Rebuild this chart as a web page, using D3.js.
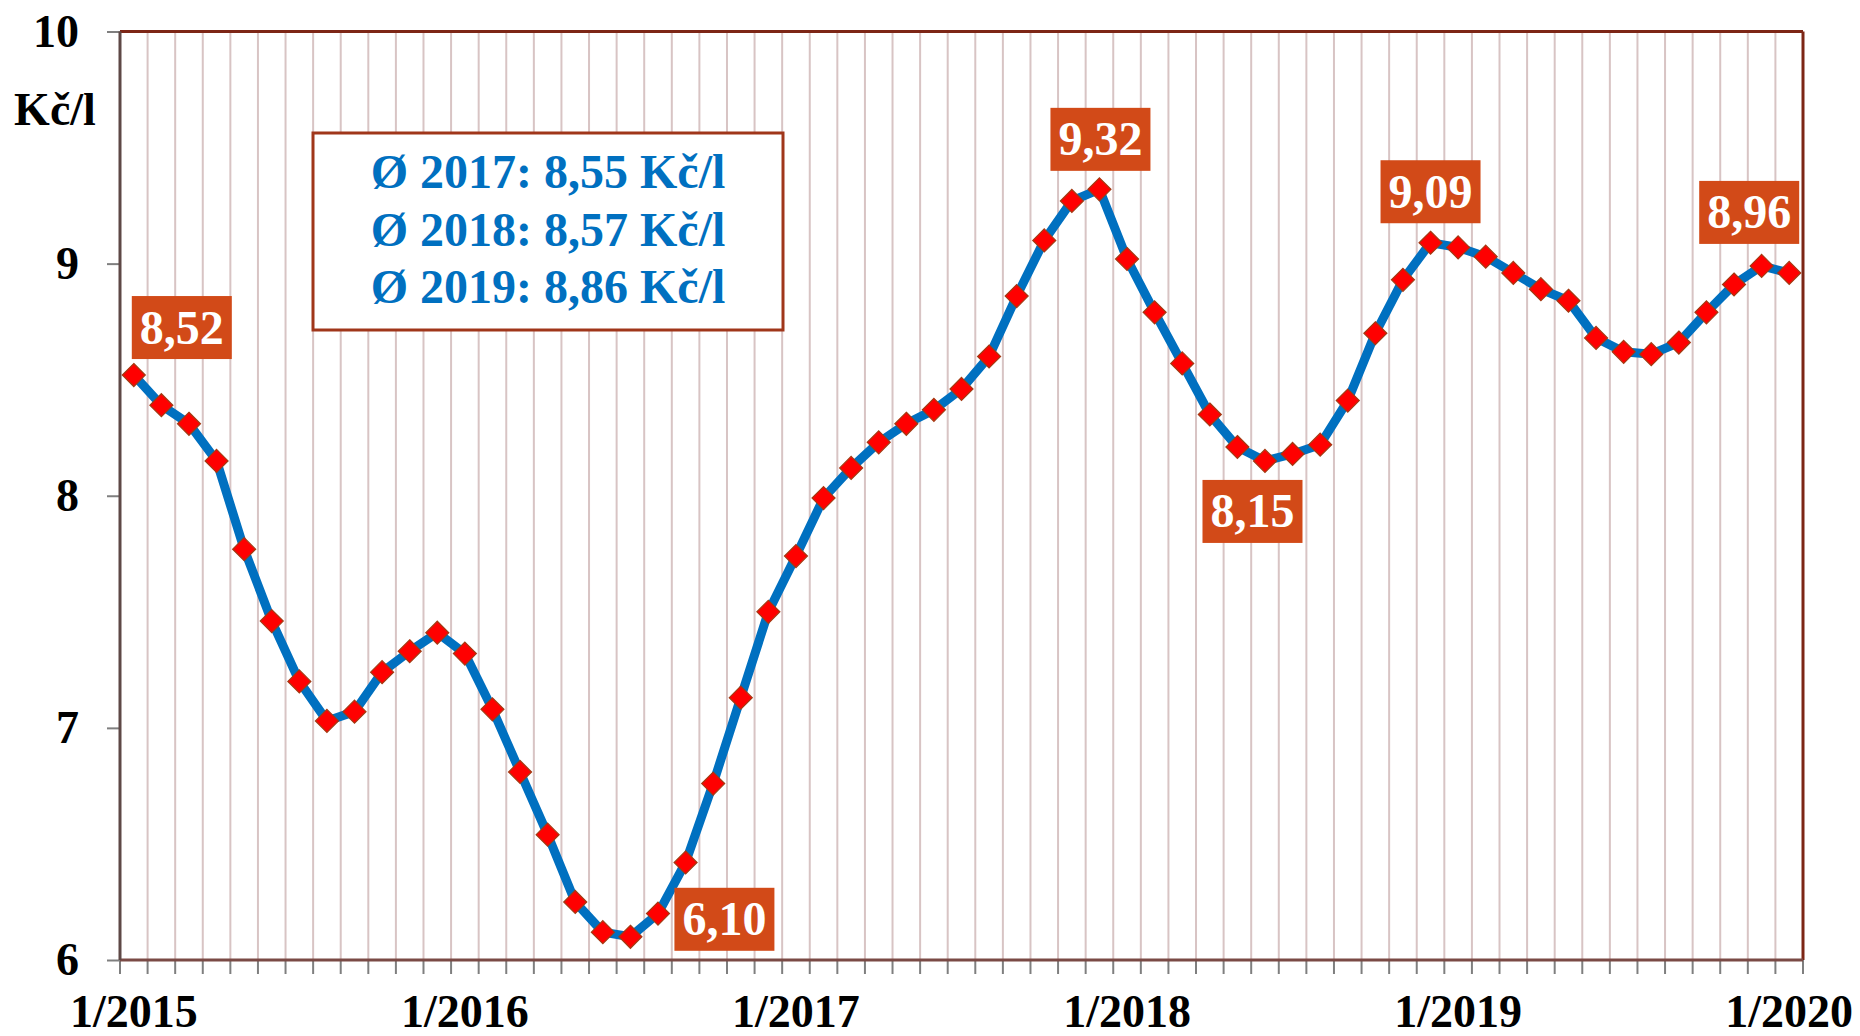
<!DOCTYPE html>
<html>
<head>
<meta charset="utf-8">
<script src="https://cdn.jsdelivr.net/npm/d3@7"></script>
<style>
  html, body { margin: 0; padding: 0; background: #ffffff; }
  svg { display: block; }
  text { font-family: "Liberation Serif", "Times New Roman", serif; font-weight: bold; }
</style>
</head>
<body>
<svg id="chart" width="1860" height="1036"></svg>
<script>
// ---------- DATA ----------
const categories = [
  "1/2015","2/2015","3/2015","4/2015","5/2015","6/2015","7/2015","8/2015","9/2015","10/2015","11/2015","12/2015",
  "1/2016","2/2016","3/2016","4/2016","5/2016","6/2016","7/2016","8/2016","9/2016","10/2016","11/2016","12/2016",
  "1/2017","2/2017","3/2017","4/2017","5/2017","6/2017","7/2017","8/2017","9/2017","10/2017","11/2017","12/2017",
  "1/2018","2/2018","3/2018","4/2018","5/2018","6/2018","7/2018","8/2018","9/2018","10/2018","11/2018","12/2018",
  "1/2019","2/2019","3/2019","4/2019","5/2019","6/2019","7/2019","8/2019","9/2019","10/2019","11/2019","12/2019",
  "1/2020"
];
const prices = [
  8.52, 8.39, 8.31, 8.15, 7.77, 7.46, 7.20, 7.03, 7.07, 7.24, 7.33, 7.41,
  7.32, 7.08, 6.81, 6.54, 6.25, 6.12, 6.10, 6.20, 6.42, 6.76, 7.13, 7.50,
  7.74, 7.99, 8.12, 8.23, 8.31, 8.37, 8.46, 8.60, 8.86, 9.10, 9.27, 9.32,
  9.02, 8.79, 8.57, 8.35, 8.21, 8.15, 8.18, 8.22, 8.41, 8.70, 8.93, 9.09,
  9.07, 9.03, 8.96, 8.89, 8.84, 8.68, 8.62, 8.61, 8.66, 8.79, 8.91, 8.99,
  8.96
];
const xTickLabels = ["1/2015","1/2016","1/2017","1/2018","1/2019","1/2020"];
const yTicks = [6, 7, 8, 9, 10];
const yUnit = "Kč/l";
const highlighted = ["1/2015","7/2016","12/2017","6/2018","12/2018","1/2020"];
const avgYears = [2017, 2018, 2019];
const avgValues = [8.55, 8.57, 8.86];

// ---------- LAYOUT (not data) ----------
const plot = { left: 120, right: 1803, top: 31.5, bottom: 960 };
// box centre offset relative to its point, per highlighted category
const labelOffset = {
  "1/2015":  { dx: 48,  dy: -47.5 },
  "7/2016":  { dx: 94,  dy: -17.5 },
  "12/2017": { dx: 1,   dy: -50 },
  "6/2018":  { dx: -12.5, dy: 50.5 },
  "12/2018": { dx: 0,   dy: -51 },
  "1/2020":  { dx: -40, dy: -60.5 }
};
const boxW = 100, boxH = 63;
const markerR = 11.5; // half-diagonal of diamond marker

const fmt = v => d3.format(".2f")(v).replace(".", ",");

const svg = d3.select("#chart");

const x = d3.scaleBand().domain(categories).range([plot.left, plot.right]).padding(0);
const y = d3.scaleLinear().domain([6, 10]).range([plot.bottom, plot.top]);
const cx = c => x(c) + x.bandwidth() / 2;

// vertical grid lines at category boundaries
svg.append("g")
  .selectAll("line")
  .data(categories.slice(1))
  .join("line")
  .attr("x1", d => x(d)).attr("x2", d => x(d))
  .attr("y1", plot.top).attr("y2", plot.bottom)
  .attr("stroke", "#d8c4c4").attr("stroke-width", 2);

// x axis ticks (outward, at category boundaries)
const boundaries = categories.map(c => x(c)).concat([plot.right]);
svg.append("g")
  .selectAll("line")
  .data(boundaries)
  .join("line")
  .attr("x1", d => d).attr("x2", d => d)
  .attr("y1", plot.bottom).attr("y2", plot.bottom + 14)
  .attr("stroke", "#7f7f7f").attr("stroke-width", 2);

// y axis with outward ticks
const yAxis = d3.axisLeft(y).tickValues(yTicks).tickSize(13).tickPadding(28)
  .tickFormat(d3.format("d"));
const gy = svg.append("g").attr("transform", `translate(${plot.left},0)`).call(yAxis);
gy.select(".domain").remove();
gy.selectAll(".tick line").attr("stroke", "#7f7f7f").attr("stroke-width", 2);
gy.selectAll(".tick text")
  .attr("fill", "#000").attr("font-size", 46)
  .attr("font-family", "'Liberation Serif', serif").attr("font-weight", "bold");

// unit label
svg.append("text")
  .attr("x", 55).attr("y", 125)
  .attr("text-anchor", "middle")
  .attr("font-size", 46).attr("fill", "#000")
  .text(yUnit);

// x tick labels
svg.append("g")
  .selectAll("text")
  .data(xTickLabels)
  .join("text")
  .attr("x", d => cx(d))
  .attr("y", 1027)
  .attr("text-anchor", "middle")
  .attr("font-size", 46).attr("fill", "#000")
  .text(d => d);

// plot frame
svg.append("line").attr("x1", plot.left).attr("x2", plot.right)
  .attr("y1", plot.top).attr("y2", plot.top)
  .attr("stroke", "#7d2616").attr("stroke-width", 3);
svg.append("line").attr("x1", plot.right).attr("x2", plot.right)
  .attr("y1", plot.top).attr("y2", plot.bottom)
  .attr("stroke", "#7d2616").attr("stroke-width", 3);
svg.append("line").attr("x1", plot.left).attr("x2", plot.right)
  .attr("y1", plot.bottom).attr("y2", plot.bottom)
  .attr("stroke", "#7a4a45").attr("stroke-width", 3);
svg.append("line").attr("x1", plot.left).attr("x2", plot.left)
  .attr("y1", plot.top).attr("y2", plot.bottom)
  .attr("stroke", "#5e4846").attr("stroke-width", 3);

// legend / averages box
const lg = svg.append("g");
lg.append("rect").attr("x", 313).attr("y", 133).attr("width", 470).attr("height", 197)
  .attr("fill", "#fff").attr("stroke", "#a0361a").attr("stroke-width", 3);
lg.selectAll("text")
  .data(avgYears)
  .join("text")
  .attr("x", 548)
  .attr("y", (d, i) => 188 + i * 57.5)
  .attr("text-anchor", "middle")
  .attr("font-size", 48).attr("fill", "#0070c0")
  .text((d, i) => `Ø ${d}: ${fmt(avgValues[i])} Kč/l`);

// line
const series = categories.map((c, i) => ({ c, v: prices[i] }));
svg.append("path")
  .datum(series)
  .attr("fill", "none")
  .attr("stroke", "#0070c0")
  .attr("stroke-width", 9)
  .attr("stroke-linejoin", "round")
  .attr("d", d3.line().x(d => cx(d.c)).y(d => y(d.v)));

// diamond markers
const diamondPath = `M0,${-markerR}L${markerR},0L0,${markerR}L${-markerR},0Z`;
svg.append("g")
  .selectAll("path")
  .data(series)
  .join("path")
  .attr("transform", d => `translate(${cx(d.c)},${y(d.v)})`)
  .attr("d", diamondPath)
  .attr("fill", "#ff0000")
  .attr("stroke", "#a33a12")
  .attr("stroke-width", 1.2);

// highlighted value labels
const hl = series.filter(d => highlighted.includes(d.c));
const lab = svg.append("g").selectAll("g").data(hl).join("g")
  .attr("transform", d => {
    const o = labelOffset[d.c];
    return `translate(${cx(d.c) + o.dx},${y(d.v) + o.dy})`;
  });
lab.append("rect")
  .attr("x", -boxW / 2).attr("y", -boxH / 2)
  .attr("width", boxW).attr("height", boxH)
  .attr("fill", "#d24a18");
lab.append("text")
  .attr("x", 0).attr("y", 16)
  .attr("text-anchor", "middle")
  .attr("font-size", 48).attr("fill", "#fff")
  .text(d => fmt(d.v));
</script>
</body>
</html>
